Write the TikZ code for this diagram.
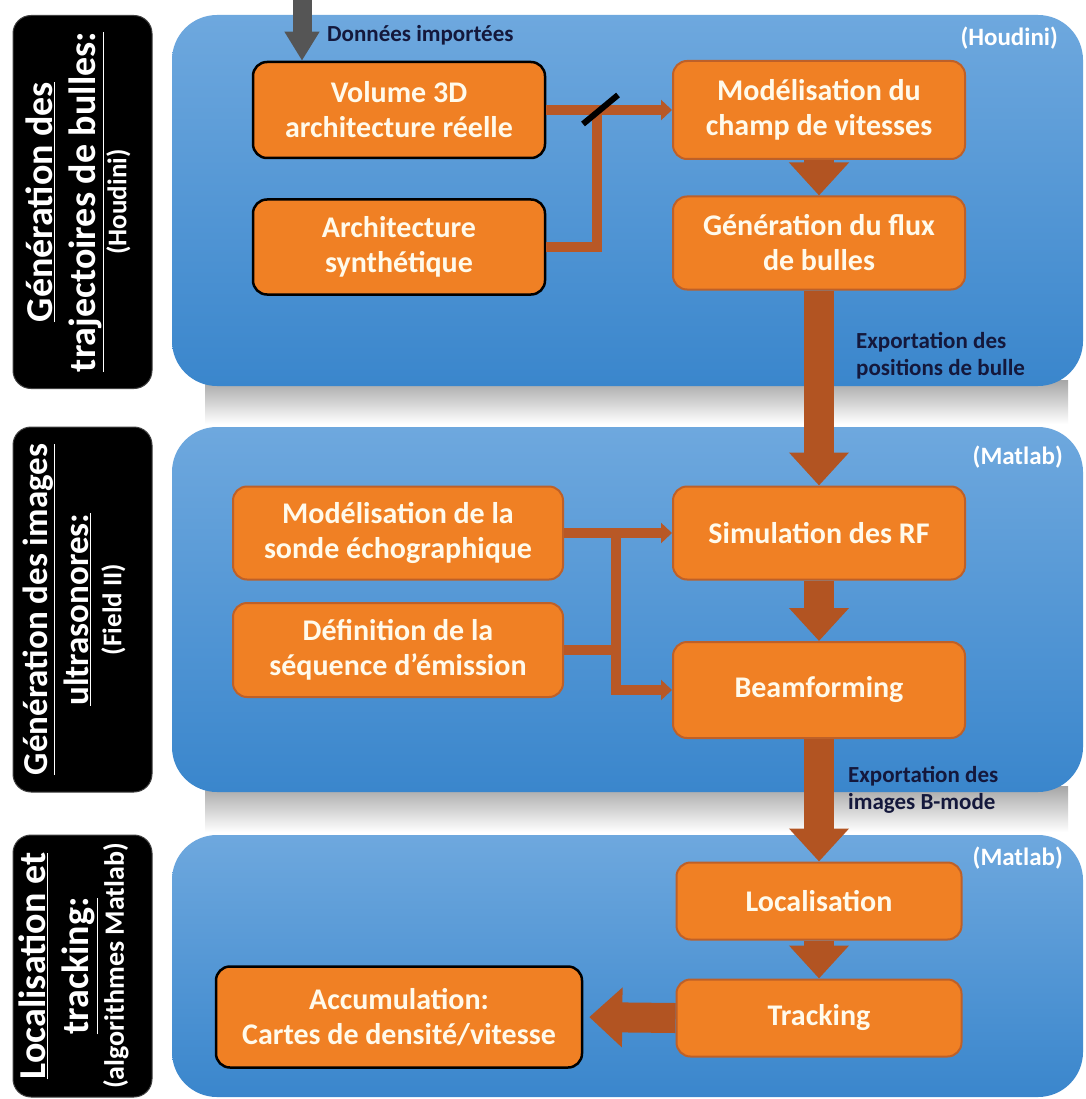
\documentclass[tikz,border=0pt]{standalone}
\usepackage{fontspec}
\setmainfont{Carlito}
\usetikzlibrary{arrows.meta}
\definecolor{panelTop}{RGB}{110,168,222}
\definecolor{panelBot}{RGB}{58,134,204}
\definecolor{boxOrange}{RGB}{240,128,36}
\definecolor{boxEdge}{RGB}{190,96,40}
\definecolor{connCol}{RGB}{184,88,38}
\definecolor{bigArr}{RGB}{178,84,34}
\definecolor{navy}{RGB}{20,24,60}
\definecolor{boxText}{RGB}{255,250,235}
\definecolor{darkArr}{RGB}{85,85,85}
\begin{document}
\begin{tikzpicture}[x=1pt,y=-1pt,
  panel/.style={top color=panelTop, bottom color=panelBot, rounded corners=45pt},
  orangebox/.style={draw=boxEdge, line width=2pt, fill=boxOrange, rounded corners=14pt, text=boxText,
     font=\bfseries\fontsize{30}{35}\selectfont, align=center, inner sep=0pt},
  blackedge/.style={draw=black, line width=2.5pt},
  sidebox/.style={fill=black, draw=black!75, line width=1pt, rounded corners=18pt, inner sep=0pt},
  sidetext/.style={rotate=90, text=white, font=\bfseries\fontsize{38}{43}\selectfont, align=center, inner sep=0pt},
  bigarrow/.style={draw=bigArr, line width=30pt, -{Triangle[width=58pt,length=33pt]}},
  thinconn/.style={draw=connCol, line width=10pt},
  thinarrow/.style={thinconn, -{Triangle[width=20pt,length=11pt]}},
  note/.style={text=navy, font=\bfseries\fontsize{23}{27}\selectfont, align=left, inner sep=0pt},
  tool/.style={text=white, font=\bfseries\fontsize{25}{28}\selectfont, inner sep=0pt}
]
\useasboundingbox (0,0) rectangle (1085,1099);
\fill[white] (0,0) rectangle (1085,1099);

% shadows under panels
\shade[top color=black!35, bottom color=white] (205,380) rectangle (1068,424);
\shade[top color=black!35, bottom color=white] (205,786) rectangle (1068,832);

% blue panels
\shade[panel] (172,15) rectangle (1083,386);
\shade[panel] (172,427) rectangle (1083,792);
\shade[panel] (172,835) rectangle (1083,1097);

% side labels
\node[sidebox, minimum width=139pt, minimum height=373pt] (s1) at (82.5,202) {};
\node[sidetext] (t1) at (78,202) {\underline{Génération des}\\\underline{trajectoires de bulles:}\\[-12pt]{\fontsize{27}{30}\selectfont (Houdini)}};
\node[sidebox, minimum width=139pt, minimum height=365pt] (s2) at (82.5,609.5) {};
\node[sidetext, font=\bfseries\fontsize{35}{41}\selectfont] (t2) at (74,609.5) {\underline{Génération des images}\\\underline{ultrasonores:}\\[-8pt]{\fontsize{27}{30}\selectfont (Field II)}};
\node[sidebox, minimum width=139pt, minimum height=262pt] (s3) at (82.5,966) {};
\node[sidetext] (t3) at (74,966) {\underline{Localisation et}\\\underline{tracking:}\\[-8pt]{\fontsize{28}{30}\selectfont (algorithmes Matlab)}};

% tool labels
\node[tool, anchor=east] (h1) at (1058,38) {(Houdini)};
\node[tool, anchor=east] (m1) at (1063,457) {(Matlab)};
\node[tool, anchor=east] (m2) at (1063,858) {(Matlab)};

% orange boxes
\node[orangebox, blackedge, minimum width=292pt, minimum height=96pt] (vol) at (399,110) {Volume 3D\\architecture réelle};
\node[orangebox, blackedge, minimum width=292pt, minimum height=95pt] (arch) at (399,247) {Architecture\\synthétique};
\node[orangebox, minimum width=292pt, minimum height=98pt] (mod) at (819,110) {Modélisation du\\champ de vitesses};
\node[orangebox, minimum width=292pt, minimum height=93pt] (flux) at (819,243) {Génération du flux\\de bulles};
\node[orangebox, minimum width=330pt, minimum height=93pt] (sonde) at (398,533) {Modélisation de la\\sonde échographique};
\node[orangebox, minimum width=330pt, minimum height=94pt] (def) at (398,650) {Définition de la\\séquence d’émission};
\node[orangebox, minimum width=292pt, minimum height=93pt] (sim) at (819,533) {Simulation des RF};
\node[orangebox, minimum width=292pt, minimum height=96pt] (beam) at (819,690) {Beamforming};
\node[orangebox, minimum width=285pt, minimum height=77pt] (loc) at (819,901) {Localisation};
\node[orangebox, minimum width=285pt, minimum height=77pt] (track) at (819,1018) {Tracking};
\node[orangebox, blackedge, minimum width=366pt, minimum height=101pt] (acc) at (399,1017) {Accumulation:\\Cartes de densité/vitesse};

% imported data arrow
\coordinate (dtop) at (302,0);
\draw[draw=darkArr, line width=19pt, -{Triangle[width=33pt,length=29pt]}] (dtop) -- (vol.north -| dtop);
\node[note, anchor=west] (don) at (327,35) {Données importées};

% panel 1 connectors
\coordinate (j1) at (597,110);
\draw[thinconn] (arch.east) -| (j1);
\draw[thinarrow] (vol.east) -- (mod.west);
\draw[black, line width=6pt] (583,124) -- (618,95);
\draw[bigarrow] (mod.south) -- (flux.north);

% export 1
\draw[bigarrow] (flux.south) -- (sim.north);
\node[note, anchor=west] (exp1) at (856,356) {Exportation des\\positions de bulle};

% panel 2 connectors
\coordinate (j2) at (616,533);
\draw[thinarrow] (sonde.east) -- (sim.west);
\draw[thinarrow] (j2) |- (beam.west);
\draw[thinconn] (def.east) -- (def.east -| j2);
\draw[bigarrow] (sim.south) -- (beam.north);

% export 2
\draw[bigarrow] (beam.south) -- (loc.north);
\node[note, anchor=west] (exp2) at (848,790) {Exportation des\\images B-mode};

% panel 3 connectors
\draw[bigarrow] (loc.south) -- (track.north);
\draw[bigarrow, shorten >=6pt] (track.west) -- (acc.east);
\end{tikzpicture}
\end{document}
